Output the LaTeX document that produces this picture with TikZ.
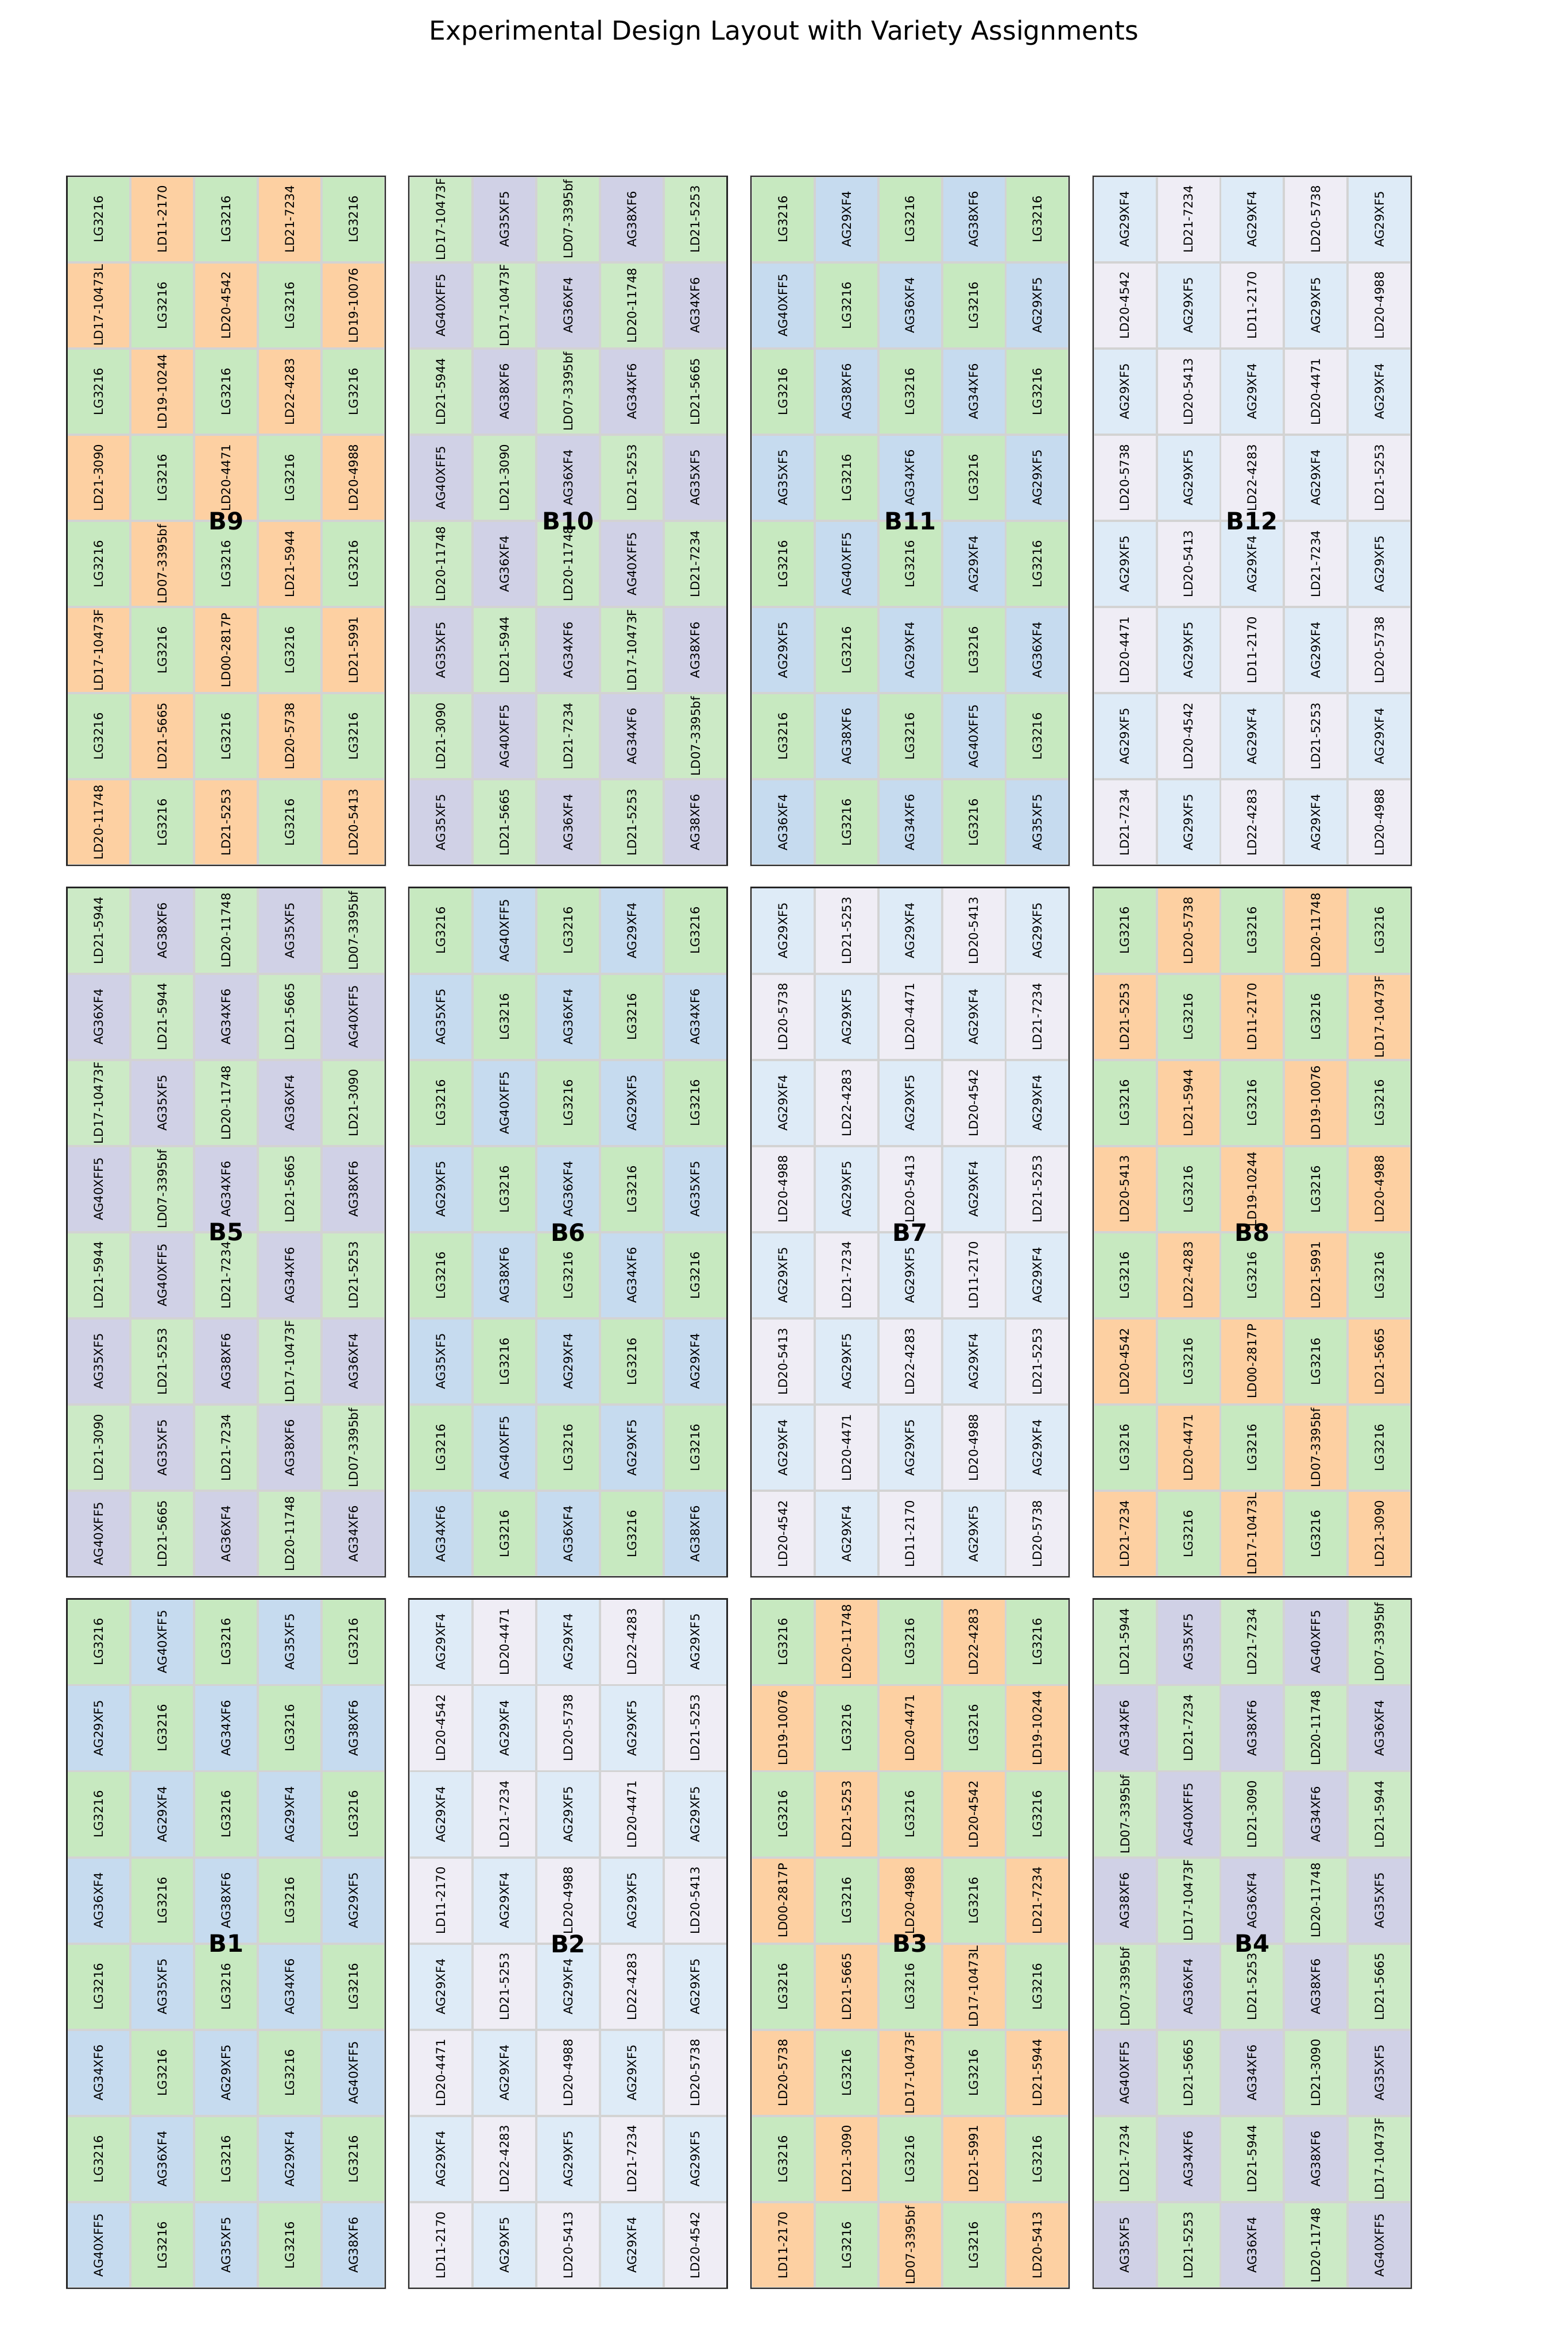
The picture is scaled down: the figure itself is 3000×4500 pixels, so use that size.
\documentclass[tikz,border=0pt]{standalone}
\usepackage{fontspec}
\setmainfont{DejaVu Sans}
\usepackage{graphicx}
\definecolor{cgreen}{HTML}{C7E9C0}
\definecolor{cgreenb}{HTML}{CCEAC6}
\definecolor{corange}{HTML}{FDD0A2}
\definecolor{cpurple}{HTML}{D0D1E6}
\definecolor{cblue}{HTML}{C6DBEF}
\definecolor{clblue}{HTML}{DEEBF7}
\definecolor{cpale}{HTML}{EFEDF5}
\definecolor{cgrid}{HTML}{D3D3D3}
\tikzset{
  cellbox/.style={rectangle, draw=cgrid, line width=1pt, inner sep=0pt, outer sep=0pt,
    minimum width=29.232pt, minimum height=39.57pt,
    font=\fontsize{5.6}{6}\selectfont},
  frame/.style={draw=black!85, line width=0.6pt},
  blocklabel/.style={font=\fontsize{11}{13}\selectfont\bfseries, inner sep=0pt},
  titletext/.style={font=\fontsize{12}{14}\selectfont, inner sep=0pt}
}
\newcommand{\plotblock}[6]{%
  \pgfmathsetmacro{\bx}{128+654.5*#2}%
  \pgfmathsetmacro{\by}{337+1361*#3}%
  \foreach \lab [count=\i from 0] in {#6} {%
    \pgfmathtruncatemacro{\rr}{int(\i/5)}%
    \pgfmathtruncatemacro{\cc}{mod(\i,5)}%
    \pgfmathtruncatemacro{\parity}{mod(\rr+\cc,2)}%
    \ifnum\parity=0 \def\fc{#4}\else\def\fc{#5}\fi
    \node[cellbox, fill=\fc] (#1-\rr-\cc) at (\bx+121.8*\cc+60.9, \by+164.875*\rr+82.4375) {\rotatebox{90}{\lab}};
  }
  \draw[frame] (\bx,\by) rectangle ++(609,1319);
  \node[blocklabel] (#1) at (\bx+304.5,\by+659.5) {#1};
}
\begin{document}
\begin{tikzpicture}[x=0.24pt,y=-0.24pt]
\fill[white] (0,0) rectangle (3000,4500);
\useasboundingbox (0,0) rectangle (3000,4500);
\node[titletext] (title) at (1500,63) {Experimental Design Layout with Variety Assignments};

\plotblock{B9}{0}{0}{cgreen}{corange}{LG3216,LD11-2170,LG3216,LD21-7234,LG3216,
LD17-10473L,LG3216,LD20-4542,LG3216,LD19-10076,
LG3216,LD19-10244,LG3216,LD22-4283,LG3216,
LD21-3090,LG3216,LD20-4471,LG3216,LD20-4988,
LG3216,LD07-3395bf,LG3216,LD21-5944,LG3216,
LD17-10473F,LG3216,LD00-2817P,LG3216,LD21-5991,
LG3216,LD21-5665,LG3216,LD20-5738,LG3216,
LD20-11748,LG3216,LD21-5253,LG3216,LD20-5413}

\plotblock{B10}{1}{0}{cgreenb}{cpurple}{LD17-10473F,AG35XF5,LD07-3395bf,AG38XF6,LD21-5253,
AG40XFF5,LD17-10473F,AG36XF4,LD20-11748,AG34XF6,
LD21-5944,AG38XF6,LD07-3395bf,AG34XF6,LD21-5665,
AG40XFF5,LD21-3090,AG36XF4,LD21-5253,AG35XF5,
LD20-11748,AG36XF4,LD20-11748,AG40XFF5,LD21-7234,
AG35XF5,LD21-5944,AG34XF6,LD17-10473F,AG38XF6,
LD21-3090,AG40XFF5,LD21-7234,AG34XF6,LD07-3395bf,
AG35XF5,LD21-5665,AG36XF4,LD21-5253,AG38XF6}

\plotblock{B11}{2}{0}{cgreen}{cblue}{LG3216,AG29XF4,LG3216,AG38XF6,LG3216,
AG40XFF5,LG3216,AG36XF4,LG3216,AG29XF5,
LG3216,AG38XF6,LG3216,AG34XF6,LG3216,
AG35XF5,LG3216,AG34XF6,LG3216,AG29XF5,
LG3216,AG40XFF5,LG3216,AG29XF4,LG3216,
AG29XF5,LG3216,AG29XF4,LG3216,AG36XF4,
LG3216,AG38XF6,LG3216,AG40XFF5,LG3216,
AG36XF4,LG3216,AG34XF6,LG3216,AG35XF5}

\plotblock{B12}{3}{0}{clblue}{cpale}{AG29XF4,LD21-7234,AG29XF4,LD20-5738,AG29XF5,
LD20-4542,AG29XF5,LD11-2170,AG29XF5,LD20-4988,
AG29XF5,LD20-5413,AG29XF4,LD20-4471,AG29XF4,
LD20-5738,AG29XF5,LD22-4283,AG29XF4,LD21-5253,
AG29XF5,LD20-5413,AG29XF4,LD21-7234,AG29XF5,
LD20-4471,AG29XF5,LD11-2170,AG29XF4,LD20-5738,
AG29XF5,LD20-4542,AG29XF4,LD21-5253,AG29XF4,
LD21-7234,AG29XF5,LD22-4283,AG29XF4,LD20-4988}

\plotblock{B5}{0}{1}{cgreenb}{cpurple}{LD21-5944,AG38XF6,LD20-11748,AG35XF5,LD07-3395bf,
AG36XF4,LD21-5944,AG34XF6,LD21-5665,AG40XFF5,
LD17-10473F,AG35XF5,LD20-11748,AG36XF4,LD21-3090,
AG40XFF5,LD07-3395bf,AG34XF6,LD21-5665,AG38XF6,
LD21-5944,AG40XFF5,LD21-7234,AG34XF6,LD21-5253,
AG35XF5,LD21-5253,AG38XF6,LD17-10473F,AG36XF4,
LD21-3090,AG35XF5,LD21-7234,AG38XF6,LD07-3395bf,
AG40XFF5,LD21-5665,AG36XF4,LD20-11748,AG34XF6}

\plotblock{B6}{1}{1}{cgreen}{cblue}{LG3216,AG40XFF5,LG3216,AG29XF4,LG3216,
AG35XF5,LG3216,AG36XF4,LG3216,AG34XF6,
LG3216,AG40XFF5,LG3216,AG29XF5,LG3216,
AG29XF5,LG3216,AG36XF4,LG3216,AG35XF5,
LG3216,AG38XF6,LG3216,AG34XF6,LG3216,
AG35XF5,LG3216,AG29XF4,LG3216,AG29XF4,
LG3216,AG40XFF5,LG3216,AG29XF5,LG3216,
AG34XF6,LG3216,AG36XF4,LG3216,AG38XF6}

\plotblock{B7}{2}{1}{clblue}{cpale}{AG29XF5,LD21-5253,AG29XF4,LD20-5413,AG29XF5,
LD20-5738,AG29XF5,LD20-4471,AG29XF4,LD21-7234,
AG29XF4,LD22-4283,AG29XF5,LD20-4542,AG29XF4,
LD20-4988,AG29XF5,LD20-5413,AG29XF4,LD21-5253,
AG29XF5,LD21-7234,AG29XF5,LD11-2170,AG29XF4,
LD20-5413,AG29XF5,LD22-4283,AG29XF4,LD21-5253,
AG29XF4,LD20-4471,AG29XF5,LD20-4988,AG29XF4,
LD20-4542,AG29XF4,LD11-2170,AG29XF5,LD20-5738}

\plotblock{B8}{3}{1}{cgreen}{corange}{LG3216,LD20-5738,LG3216,LD20-11748,LG3216,
LD21-5253,LG3216,LD11-2170,LG3216,LD17-10473F,
LG3216,LD21-5944,LG3216,LD19-10076,LG3216,
LD20-5413,LG3216,LD19-10244,LG3216,LD20-4988,
LG3216,LD22-4283,LG3216,LD21-5991,LG3216,
LD20-4542,LG3216,LD00-2817P,LG3216,LD21-5665,
LG3216,LD20-4471,LG3216,LD07-3395bf,LG3216,
LD21-7234,LG3216,LD17-10473L,LG3216,LD21-3090}

\plotblock{B1}{0}{2}{cgreen}{cblue}{LG3216,AG40XFF5,LG3216,AG35XF5,LG3216,
AG29XF5,LG3216,AG34XF6,LG3216,AG38XF6,
LG3216,AG29XF4,LG3216,AG29XF4,LG3216,
AG36XF4,LG3216,AG38XF6,LG3216,AG29XF5,
LG3216,AG35XF5,LG3216,AG34XF6,LG3216,
AG34XF6,LG3216,AG29XF5,LG3216,AG40XFF5,
LG3216,AG36XF4,LG3216,AG29XF4,LG3216,
AG40XFF5,LG3216,AG35XF5,LG3216,AG38XF6}

\plotblock{B2}{1}{2}{clblue}{cpale}{AG29XF4,LD20-4471,AG29XF4,LD22-4283,AG29XF5,
LD20-4542,AG29XF4,LD20-5738,AG29XF5,LD21-5253,
AG29XF4,LD21-7234,AG29XF5,LD20-4471,AG29XF5,
LD11-2170,AG29XF4,LD20-4988,AG29XF5,LD20-5413,
AG29XF4,LD21-5253,AG29XF4,LD22-4283,AG29XF5,
LD20-4471,AG29XF4,LD20-4988,AG29XF5,LD20-5738,
AG29XF4,LD22-4283,AG29XF5,LD21-7234,AG29XF5,
LD11-2170,AG29XF5,LD20-5413,AG29XF4,LD20-4542}

\plotblock{B3}{2}{2}{cgreen}{corange}{LG3216,LD20-11748,LG3216,LD22-4283,LG3216,
LD19-10076,LG3216,LD20-4471,LG3216,LD19-10244,
LG3216,LD21-5253,LG3216,LD20-4542,LG3216,
LD00-2817P,LG3216,LD20-4988,LG3216,LD21-7234,
LG3216,LD21-5665,LG3216,LD17-10473L,LG3216,
LD20-5738,LG3216,LD17-10473F,LG3216,LD21-5944,
LG3216,LD21-3090,LG3216,LD21-5991,LG3216,
LD11-2170,LG3216,LD07-3395bf,LG3216,LD20-5413}

\plotblock{B4}{3}{2}{cgreenb}{cpurple}{LD21-5944,AG35XF5,LD21-7234,AG40XFF5,LD07-3395bf,
AG34XF6,LD21-7234,AG38XF6,LD20-11748,AG36XF4,
LD07-3395bf,AG40XFF5,LD21-3090,AG34XF6,LD21-5944,
AG38XF6,LD17-10473F,AG36XF4,LD20-11748,AG35XF5,
LD07-3395bf,AG36XF4,LD21-5253,AG38XF6,LD21-5665,
AG40XFF5,LD21-5665,AG34XF6,LD21-3090,AG35XF5,
LD21-7234,AG34XF6,LD21-5944,AG38XF6,LD17-10473F,
AG35XF5,LD21-5253,AG36XF4,LD20-11748,AG40XFF5}
\end{tikzpicture}
\end{document}
